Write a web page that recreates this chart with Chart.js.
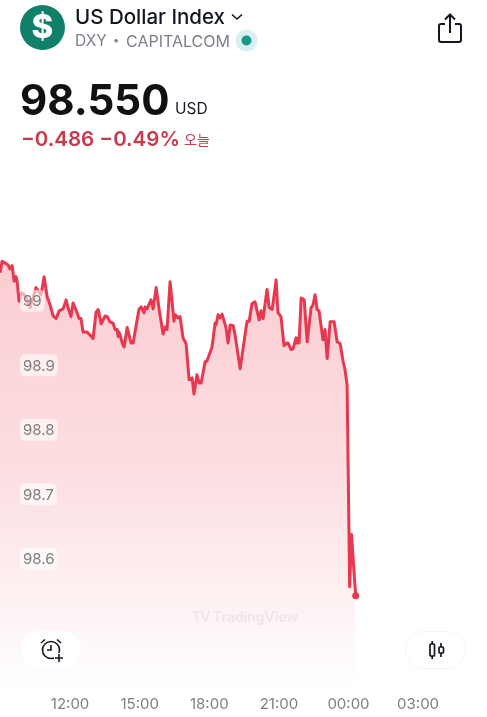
<!DOCTYPE html>
<html lang="ko">
<head>
<meta charset="utf-8">
<title>US Dollar Index</title>
<script src="https://cdn.jsdelivr.net/npm/chart.js@4"></script>
<style>
  html, body { margin: 0; padding: 0; background: #fff; overflow: hidden; }
  body { width: 487px; height: 717px; position: relative; font-family: Inter, "Noto Sans CJK KR", sans-serif; }
  #chartBox { position: absolute; left: 0; top: 0; width: 487px; height: 717px; }
  .txt { position: absolute; white-space: nowrap; line-height: 1; }
  .pill { position: absolute; top: 631px; height: 38px; border-radius: 19px; background: #fff; }
  svg { position: absolute; }
</style>
</head>
<body>
<div id="chartBox"><canvas id="dxyChart" width="487" height="717"></canvas></div>

<svg style="left:20px;top:5px" width="45" height="45" viewBox="0 0 45 45"><circle cx="22.5" cy="22.5" r="22.5" fill="#10806a"/></svg>
<div class="txt" style="left:20px;top:10px;width:45px;text-align:center;font-size:33px;font-weight:800;color:#fff">$</div>
<div class="txt" style="left:75px;top:7px;font-size:20.5px;font-weight:500;color:#131722">US Dollar Index</div>
<svg style="left:230px;top:12px" width="14" height="10" viewBox="0 0 14 10"><path d="M2 2.5 L7 7 L12 2.5" fill="none" stroke="#131722" stroke-width="1.6"/></svg>
<div class="txt" style="left:75px;top:33px;font-size:15.5px;color:#7b7f87">DXY</div>
<div class="txt" style="left:113px;top:35px;font-size:11px;color:#7b7f87">•</div>
<div class="txt" style="left:126px;top:33px;font-size:16px;color:#7b7f87">CAPITALCOM</div>
<svg style="left:235px;top:29px" width="23" height="23" viewBox="0 0 23 23"><circle cx="11.5" cy="11.5" r="11" fill="#daf0f0"/><circle cx="11.5" cy="11.5" r="5" fill="#149a84"/></svg>
<svg style="left:437px;top:13px" width="26" height="31" viewBox="0 0 26 31"><path d="M8 11 H4 Q2 11 2 13 V27 Q2 29 4 29 H22 Q24 29 24 27 V13 Q24 11 22 11 H18 M13 20 V2 M8 6.5 L13 1.5 L18 6.5" fill="none" stroke="#131722" stroke-width="2"/></svg>

<div class="txt" style="left:20px;top:79px;font-size:42px;font-weight:700;color:#111">98.550</div>
<div class="txt" style="left:175px;top:101px;font-size:15.5px;color:#131722">USD</div>
<div class="txt" style="left:21px;top:129px;font-size:20.5px;font-weight:600;color:#c73a4c">−0.486 −0.49%</div>
<div class="txt" style="left:184px;top:133px;font-size:14px;color:#c73a4c">오늘</div>

<div class="txt" style="left:192px;top:610px;font-size:14px;font-weight:600;color:#ece6e7"><span style="letter-spacing:-1px">TV</span>&nbsp;TradingView</div>

<div class="pill" style="left:21px;width:60px"></div>
<svg style="left:39px;top:637px" width="26" height="27" viewBox="0 0 26 27"><circle cx="12" cy="13" r="8.5" fill="none" stroke="#131722" stroke-width="1.6"/><path d="M12 8 V13 H8 M2 6 L6 2.5 M22 6 L18 2.5" fill="none" stroke="#131722" stroke-width="1.6"/><rect x="15" y="16" width="11" height="11" fill="#fff"/><path d="M20 17 V25 M16 21 H24" stroke="#131722" stroke-width="1.6"/></svg>
<div class="pill" style="left:405px;width:61px;border:1px solid #f5f3f3;box-sizing:border-box"></div>
<svg style="left:428px;top:640px" width="18" height="20" viewBox="0 0 18 20"><rect x="2" y="4" width="4.5" height="12" rx="1" fill="none" stroke="#131722" stroke-width="1.7"/><path d="M4.2 1 V4 M4.2 16 V19 M13 3 V7 M13 13 V17" stroke="#131722" stroke-width="1.7"/><rect x="11" y="7" width="4.5" height="6" rx="1" fill="none" stroke="#131722" stroke-width="1.7"/></svg>

<script>
// hours since midnight of the first day (24 = 00:00)
const times = [8.98, 9.07, 9.20, 9.33, 9.41, 9.50, 9.59, 9.67, 9.72, 9.80, 9.93, 10.10, 10.28, 10.53, 10.75, 10.88, 11.01, 11.14, 11.27, 11.40, 11.53, 11.70, 11.83, 11.91, 12.04, 12.13, 12.30, 12.39, 12.47, 12.56, 12.73, 12.82, 12.99, 13.12, 13.21, 13.34, 13.51, 13.60, 13.72, 13.85, 13.94, 14.03, 14.07, 14.11, 14.28, 14.33, 14.46, 14.63, 14.72, 14.89, 14.97, 15.06, 15.19, 15.23, 15.32, 15.49, 15.58, 15.71, 15.84, 16.01, 16.10, 16.18, 16.31, 16.48, 16.53, 16.65, 16.74, 16.87, 17.00, 17.13, 17.26, 17.34, 17.47, 17.56, 17.65, 17.82, 17.90, 18.12, 18.25, 18.29, 18.38, 18.47, 18.55, 18.72, 18.81, 18.90, 19.03, 19.11, 19.33, 19.59, 19.63, 19.72, 19.84, 19.97, 20.15, 20.23, 20.32, 20.49, 20.58, 20.71, 20.75, 20.88, 20.96, 21.09, 21.22, 21.35, 21.40, 21.52, 21.61, 21.74, 21.78, 21.87, 21.96, 22.09, 22.22, 22.39, 22.47, 22.56, 22.65, 22.73, 22.90, 22.99, 23.08, 23.21, 23.38, 23.51, 23.64, 23.77, 23.85, 23.94, 24.05, 24.13, 24.31];
const prices = [99.042, 99.060, 99.057, 99.054, 99.048, 99.053, 99.029, 99.036, 99.028, 98.998, 99.011, 99.005, 98.988, 99.019, 99.008, 99.036, 99.005, 98.992, 98.975, 98.971, 98.983, 98.986, 99.000, 98.988, 98.974, 98.995, 98.980, 98.971, 98.971, 98.950, 98.950, 98.947, 98.940, 98.981, 98.985, 98.963, 98.975, 98.974, 98.966, 98.964, 98.954, 98.954, 98.943, 98.950, 98.930, 98.927, 98.957, 98.933, 98.933, 98.969, 98.985, 98.989, 98.980, 98.989, 98.986, 99.000, 98.986, 99.019, 98.985, 98.947, 98.958, 98.954, 99.028, 98.967, 98.977, 98.972, 98.974, 98.941, 98.932, 98.876, 98.879, 98.854, 98.884, 98.871, 98.871, 98.904, 98.905, 98.927, 98.964, 98.961, 98.977, 98.972, 98.978, 98.957, 98.933, 98.961, 98.960, 98.946, 98.893, 98.958, 98.967, 98.967, 98.994, 98.997, 98.969, 98.983, 98.971, 99.016, 98.988, 98.985, 98.995, 99.031, 98.980, 98.974, 98.929, 98.933, 98.933, 98.923, 98.924, 98.941, 98.933, 98.933, 99.003, 99.000, 98.935, 98.988, 98.992, 99.008, 98.985, 98.983, 98.938, 98.954, 98.909, 98.966, 98.966, 98.935, 98.932, 98.904, 98.892, 98.868, 98.555, 98.636, 98.541];

const priceTicks = [99, 98.9, 98.8, 98.7, 98.6];
const priceLabels = ['99', '98.9', '98.8', '98.7', '98.6'];
const timeTicks = [12, 15, 18, 21, 24, 27];
const timeLabels = ['12:00', '15:00', '18:00', '21:00', '00:00', '03:00'];

const lineColor = '#e8384f';
const lastIndex = times.length - 1;

// white rounded boxes behind the price labels, the axis text is drawn on top of them
const labelBoxes = {
  id: 'labelBoxes',
  afterDatasetsDraw(chart) {
    const ctx = chart.ctx;
    const yScale = chart.scales.y;
    ctx.save();
    ctx.font = '15px Inter';
    ctx.fillStyle = 'rgba(255,255,255,0.6)';
    priceTicks.forEach((v, i) => {
      const w = ctx.measureText(priceLabels[i]).width + 6;
      ctx.beginPath();
      ctx.roundRect(20, yScale.getPixelForValue(v) - 10, w, 22, 5);
      ctx.fill();
    });
    ctx.restore();
  }
};

function areaGradient(context) {
  const chartArea = context.chart.chartArea;
  if (!chartArea) return null;
  const g = context.chart.ctx.createLinearGradient(0, 260, 0, chartArea.bottom);
  g.addColorStop(0, '#fbccd1');
  g.addColorStop(0.5, '#fcdfe2');
  g.addColorStop(1, '#ffffff');
  return g;
}

new Chart(document.getElementById('dxyChart').getContext('2d'), {
  type: 'line',
  data: {
    datasets: [
      {
        data: times.map((t, i) => ({ x: t, y: prices[i] })),
        borderColor: lineColor,
        borderWidth: 3,
        borderJoinStyle: 'round',
        tension: 0,
        fill: 'start',
        backgroundColor: areaGradient,
        pointRadius: ctx => ctx.dataIndex === lastIndex ? 3.5 : 0,
        pointBackgroundColor: lineColor,
        pointBorderWidth: 0
      },
      {
        // dashed level of the last price
        data: [{ x: times[0], y: prices[lastIndex] }, { x: times[lastIndex], y: prices[lastIndex] }],
        borderColor: '#bdbdbd',
        borderWidth: 1,
        borderDash: [5, 10],
        pointRadius: 0,
        fill: false
      }
    ]
  },
  options: {
    responsive: false,
    animation: false,
    layout: { padding: 0, autoPadding: false },
    plugins: { legend: { display: false }, tooltip: { enabled: false } },
    scales: {
      x: {
        type: 'linear',
        min: 8.98,
        max: 29.97,
        grid: { display: false, drawTicks: false },
        border: { display: false },
        afterBuildTicks: axis => { axis.ticks = timeTicks.map(v => ({ value: v })); },
        afterFit: axis => {
          axis.height = 27;
          axis.paddingLeft = 0;
          axis.paddingRight = 0;
        },
        ticks: {
          autoSkip: false,
          maxRotation: 0,
          padding: 5,
          color: '#7f7f7f',
          font: { family: 'Inter', size: 15 },
          callback: value => timeLabels[timeTicks.indexOf(value)]
        }
      },
      y: {
        min: 98.395,
        max: 99.465,
        grid: { display: false, drawTicks: false },
        border: { display: false },
        afterBuildTicks: axis => { axis.ticks = priceTicks.map(v => ({ value: v })); },
        afterFit: axis => {
          axis.width = 0;
          axis.paddingTop = 0;
          axis.paddingBottom = 0;
        },
        ticks: {
          autoSkip: false,
          mirror: true,
          z: 1,
          padding: 23,
          labelOffset: 2,
          color: '#7f7f7f',
          font: { family: 'Inter', size: 15 },
          callback: value => priceLabels[priceTicks.indexOf(value)]
        }
      }
    }
  },
  plugins: [labelBoxes]
});
</script>
</body>
</html>
